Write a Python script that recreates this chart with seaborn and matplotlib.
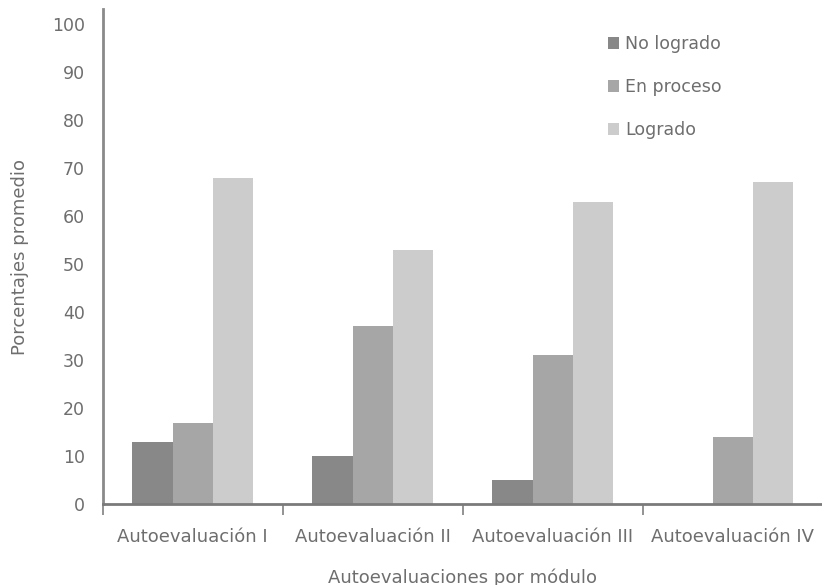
import pandas as pd
import numpy as np
import matplotlib
matplotlib.use("Agg")
import matplotlib.pyplot as plt
import seaborn as sns

# Datos
categorias = ["Autoevaluación I", "Autoevaluación II", "Autoevaluación III", "Autoevaluación IV"]
niveles = ["No logrado", "En proceso", "Logrado"]
no_logrado = [13, 10, 5, 0]
en_proceso = [17, 37, 31, 14]
logrado = [68, 53, 63, 67]

colores = ["#888888", "#a6a6a6", "#cccccc"]
texto = "#6e6e6e"

# Tabla larga para seaborn
df = pd.DataFrame({
    "Modulo": categorias * 3,
    "Nivel": [niveles[0]] * 4 + [niveles[1]] * 4 + [niveles[2]] * 4,
    "Valor": no_logrado + en_proceso + logrado,
})

sns.set_style("white")
plt.rcParams["font.family"] = ["DejaVu Sans"]

fig = plt.figure(figsize=(8.22, 5.85), dpi=100)
ax = fig.add_axes([0.125, 0.138, 0.876, 0.846])

sns.barplot(data=df, x="Modulo", y="Valor", hue="Nivel", order=categorias,
            hue_order=niveles, palette=colores, width=0.67, saturation=1,
            errorbar=None, linewidth=0, ax=ax)

ax.set_xlim(-0.5, 3.5)
ax.set_ylim(0, 103)
ax.set_yticks(np.arange(0, 101, 10))

# Ticks del eje x entre categorias
ax.set_xticks(np.arange(-0.5, 3.0, 1.0), minor=True)
ax.tick_params(axis="x", which="major", length=0, pad=17, labelsize=13, labelcolor=texto)
ax.tick_params(axis="x", which="minor", length=8, width=1.2, color="#808080", direction="out")
ax.tick_params(axis="y", length=0, pad=13, labelsize=12.5, labelcolor=texto)
ax.xaxis.set_ticks_position("bottom")

for s in ["top", "right"]:
    ax.spines[s].set_visible(False)
ax.spines["left"].set_color("#8a8a8a")
ax.spines["left"].set_linewidth(2)
ax.spines["bottom"].set_color("#7a7a7a")
ax.spines["bottom"].set_linewidth(2)

ax.set_xlabel("Autoevaluaciones por módulo", fontsize=13, color=texto, labelpad=16)
ax.set_ylabel("Porcentajes promedio", fontsize=13, color=texto, labelpad=16)

ax.legend(loc="upper left", bbox_to_anchor=(0.68, 0.98), frameon=False,
          fontsize=12.5, labelcolor=texto, handlelength=0.65, handleheight=0.65,
          handletextpad=0.35, labelspacing=1.45)

plt.savefig("out.png", dpi=100)
